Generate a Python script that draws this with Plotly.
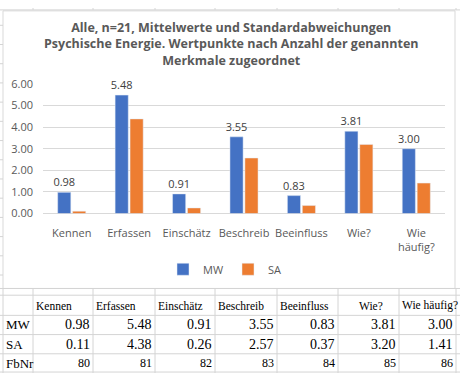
import plotly.graph_objects as go

W, H = 460, 380

categories = ["Kennen", "Erfassen", "Einschätz", "Beschreib", "Beeinfluss", "Wie?", "Wie häufig?"]
axis_labels = ["Kennen", "Erfassen", "Einschätz", "Beschreib", "Beeinfluss", "Wie?", "Wie<br>häufig?"]
mw = [0.98, 5.48, 0.91, 3.55, 0.83, 3.81, 3.00]
sa = [0.11, 4.38, 0.26, 2.57, 0.37, 3.20, 1.41]
fbnr = [80, 81, 82, 83, 84, 85, 86]
row_labels = ["MW", "SA", "FbNr"]
y_ticks = [0, 1, 2, 3, 4, 5, 6]

title_text = ("Alle, n=21, Mittelwerte und Standardabweichungen<br>"
              "Psychische Energie. Wertpunkte nach Anzahl der genannten<br>"
              "Merkmale zugeordnet")


def px(x):
    return x / W


def py(y):
    return 1 - y / H


BLUE = "#4472C4"
ORANGE = "#ED7D31"
GRID = "#D9D9D9"
TXT = "#595959"
SHEET = "#D4D4D4"
FONT = "Open Sans"
SERIF = "Liberation Serif"

fig = go.Figure()
fig.add_trace(go.Bar(
    x=axis_labels, y=mw, name="MW", marker_color=BLUE,
    text=[f"{v:.2f}" for v in mw], textposition="outside",
    textfont=dict(color="#404040", size=11, family=FONT),
    constraintext="none", cliponaxis=False,
))
fig.add_trace(go.Bar(
    x=axis_labels, y=sa, name="SA", marker_color=ORANGE,
))

shapes = []
# chart box border
shapes.append(dict(type="rect", xref="paper", yref="paper",
                   x0=px(3), x1=px(455), y0=py(292), y1=py(3),
                   line=dict(color=GRID, width=1), fillcolor="rgba(0,0,0,0)", layer="below"))

# spreadsheet grid
col_x = [3, 33, 93, 155, 215, 277, 338, 399, 456]
row_y = [292, 299, 320, 340, 360, 379]
for y in row_y:
    shapes.append(dict(type="line", xref="paper", yref="paper",
                       x0=px(0), x1=px(460), y0=py(y), y1=py(y),
                       line=dict(color=SHEET, width=1)))
for x in col_x:
    shapes.append(dict(type="line", xref="paper", yref="paper",
                       x0=px(x), x1=px(x), y0=py(292), y1=py(380),
                       line=dict(color=SHEET, width=1)))
# top strip
shapes.append(dict(type="line", xref="paper", yref="paper",
                   x0=px(0), x1=px(460), y0=py(2), y1=py(2),
                   line=dict(color=SHEET, width=1)))
for x in col_x[1:]:
    shapes.append(dict(type="line", xref="paper", yref="paper",
                       x0=px(x), x1=px(x), y0=py(0), y1=py(2),
                       line=dict(color=SHEET, width=1)))
# left strip row lines
for k in range(14):
    y = 18 + 20 * k
    shapes.append(dict(type="line", xref="paper", yref="paper",
                       x0=px(0), x1=px(3), y0=py(y), y1=py(y),
                       line=dict(color=SHEET, width=1)))

annotations = []
# title
annotations.append(dict(text=title_text, xref="paper", yref="paper",
                        x=px(231), y=py(38), xanchor="center", yanchor="middle",
                        showarrow=False, align="center",
                        font=dict(family=FONT, size=12.5, color=TXT, weight="bold")))

# table header
hdr_y = 310
for i, c in enumerate(categories):
    left, right = col_x[i + 1], col_x[i + 2]
    if c == "Wie?":
        annotations.append(dict(text=c, xref="paper", yref="paper",
                                x=px((left + right) / 2 + 2), y=py(hdr_y), xanchor="center", yanchor="middle",
                                showarrow=False, font=dict(family=SERIF, size=11.5, color="#000")))
    else:
        annotations.append(dict(text=c, xref="paper", yref="paper",
                                x=px(left + 1), y=py(hdr_y), xanchor="left", yanchor="middle",
                                showarrow=False, font=dict(family=SERIF, size=11.5, color="#000")))

rows = [mw, sa, fbnr]
row_centers = [330, 350, 370]
for r, (lab, vals, yc) in enumerate(zip(row_labels, rows, row_centers)):
    annotations.append(dict(text=lab, xref="paper", yref="paper",
                            x=px(4), y=py(yc), xanchor="left", yanchor="middle",
                            showarrow=False, font=dict(family=SERIF, size=13, color="#000")))
    for i, v in enumerate(vals):
        right = col_x[i + 2]
        txt = f"{v:.2f}" if r < 2 else f"{v}"
        size = 14 if r < 2 else 12
        annotations.append(dict(text=txt, xref="paper", yref="paper",
                                x=px(right - 1), y=py(yc), xanchor="right", yanchor="middle",
                                showarrow=False, font=dict(family=SERIF, size=size, color="#000")))

fig.update_layout(
    width=W, height=H,
    margin=dict(l=0, r=0, t=0, b=0),
    paper_bgcolor="white", plot_bgcolor="white",
    barmode="group", bargap=0.48, bargroupgap=0.12,
    showlegend=True,
    legend=dict(orientation="h", x=px(228), xanchor="center", y=py(272), yanchor="middle",
                font=dict(family=FONT, size=11, color=TXT), itemwidth=30,
                entrywidth=20, entrywidthmode="pixels",
                bgcolor="rgba(0,0,0,0)"),
    xaxis=dict(domain=[px(43), px(445)], showgrid=False, showline=False,
               tickfont=dict(family=FONT, size=11, color=TXT), ticks="",
               ticklabelstandoff=11, fixedrange=True),
    yaxis=dict(domain=[py(214), py(79)], range=[0, 6], tickvals=y_ticks,
               tickformat=".2f", showgrid=True, gridcolor=GRID, gridwidth=1,
               zeroline=True, zerolinecolor=GRID, zerolinewidth=1,
               showline=False, ticks="",
               tickfont=dict(family=FONT, size=11, color=TXT),
               ticklabelstandoff=9, fixedrange=True),
    shapes=shapes, annotations=annotations,
    font=dict(family=FONT),
)

fig.write_html("out.html", config={"displayModeBar": False},
               post_script="document.body.style.margin='0';document.body.style.overflow='hidden';")
